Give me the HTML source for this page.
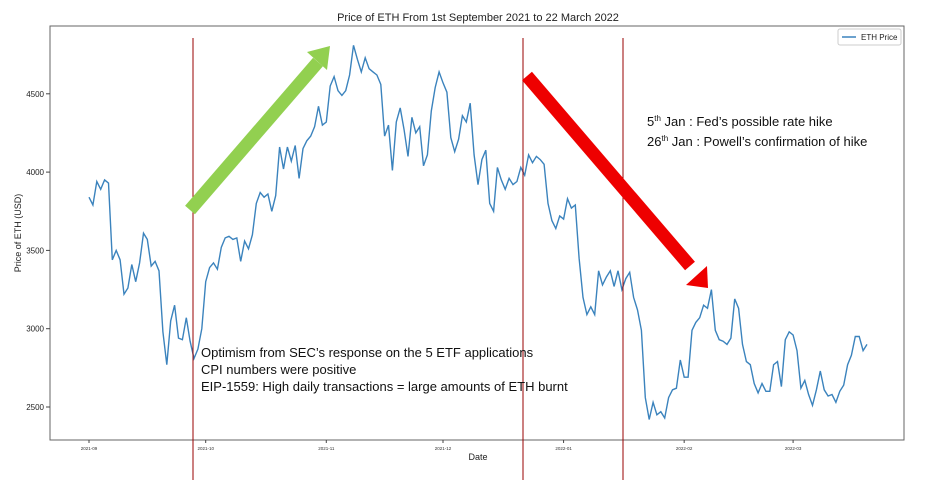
<!DOCTYPE html>
<html><head><meta charset="utf-8"><style>
body{margin:0;background:#fff;}
svg{display:block;font-family:"Liberation Sans",sans-serif;}
</style></head><body>
<svg id="chart" width="930" height="502">
<text x="478" y="21" font-size="11" text-anchor="middle" fill="#222">Price of ETH From 1st September 2021 to 22 March 2022</text>
<rect x="50" y="26" width="854" height="414" fill="none" stroke="#666" stroke-width="1"/>
<g id="yticks"></g><g id="xticks"></g>
<text transform="translate(21,233) rotate(-90)" font-size="9" text-anchor="middle" fill="#222">Price of ETH (USD)</text>
<text x="478" y="460" font-size="9" text-anchor="middle" fill="#222">Date</text>
<path id="line" fill="none" stroke="#3b83bd" stroke-width="1.4"/>
<g>
<rect x="838" y="29" width="63" height="16" fill="#fff" stroke="#ccc" rx="2"/>
<line x1="842" y1="37" x2="856" y2="37" stroke="#3b83bd" stroke-width="1.5"/>
<text x="861" y="40" font-size="8" fill="#222">ETH Price</text>
</g>
<line x1="193" y1="38" x2="193" y2="480" stroke="#900" stroke-width="1"/>
<line x1="523" y1="38" x2="523" y2="480" stroke="#900" stroke-width="1"/>
<line x1="623" y1="38" x2="623" y2="480" stroke="#900" stroke-width="1"/>
<line x1="190" y1="210" x2="318" y2="62" stroke="#92d050" stroke-width="13"/>
<polygon points="330,46 307,52 327,70" fill="#92d050"/>
<line x1="527" y1="76" x2="690" y2="266" stroke="#ee0000" stroke-width="13"/>
<polygon points="708,288 686,285 707,266" fill="#ee0000"/>
<g font-family="'Liberation Sans',sans-serif" font-size="13" fill="#111">
<text x="201" y="357">Optimism from SEC’s response on the 5 ETF applications</text>
<text x="201" y="374">CPI numbers were positive</text>
<text x="201" y="391">EIP-1559: High daily transactions = large amounts of ETH burnt</text>
</g>
<g font-size="13" fill="#111">
<text x="647" y="126">5<tspan font-size="8" dy="-5">th</tspan><tspan dy="5"> Jan : Fed’s possible rate hike</tspan></text>
<text x="647" y="146">26<tspan font-size="8" dy="-5">th</tspan><tspan dy="5"> Jan : Powell’s confirmation of hike</tspan></text>
</g>
</svg>
<script>
const prices = [3840,3790,3940,3890,3950,3930,3440,3500,3440,3220,3260,3410,3300,3420,3610,3570,3400,3430,3370,2980,2770,3050,3150,2940,2930,3070,2920,2810,2870,3000,
3300,3390,3420,3380,3520,3580,3590,3570,3580,3430,3560,3510,3600,3800,3870,3840,3860,3750,3850,4160,4020,4160,4070,4170,3960,4150,4200,4230,4290,4420,4300,
4320,4550,4610,4520,4490,4520,4620,4810,4720,4640,4730,4660,4640,4620,4560,4230,4300,4010,4320,4410,4270,4100,4350,4250,4290,4040,4110,4390,4540,4640,
4570,4510,4220,4130,4210,4360,4320,4440,4110,3920,4080,4140,3800,3750,4030,3950,3890,3960,3920,3940,4030,3980,4110,4060,4100,4080,4050,3800,3690,3640,3720,
3700,3830,3770,3790,3450,3200,3090,3140,3090,3370,3280,3330,3370,3270,3370,3250,3320,3360,3200,3120,2990,2560,2420,2530,2450,2470,2430,2560,2610,2620,2800,
2690,2690,2990,3040,3070,3150,3130,3250,2990,2930,2920,2900,2940,3190,3130,2900,2790,2770,2650,2590,2650,2600,2600,2770,2790,2630,2930,2980,
2960,2860,2620,2670,2580,2510,2610,2730,2610,2570,2580,2530,2600,2640,2770,2830,2950,2950,2860,2900];
const yTicks = [2500,3000,3500,4000,4500];
const xTickLabels = ["2021-09","2021-10","2021-11","2021-12","2022-01","2022-02","2022-03"];
const xTickDays = [0,30,61,91,122,153,181];
const NS="http://www.w3.org/2000/svg";
function xs(d){return 89+d*3.89;}
function ys(p){return 407-(p-2500)*78.3/500;}
const yg=document.getElementById('yticks'), xg=document.getElementById('xticks');
yTicks.forEach(v=>{
 const l=document.createElementNS(NS,'line');
 l.setAttribute('x1',46);l.setAttribute('x2',50);l.setAttribute('y1',ys(v));l.setAttribute('y2',ys(v));l.setAttribute('stroke','#444');
 
 
 yg.appendChild(l);
 const t=document.createElementNS(NS,'text');
 t.setAttribute('x',44);t.setAttribute('y',ys(v)+3);t.setAttribute('font-size','8');t.setAttribute('text-anchor','end');t.setAttribute('fill','#222');
 t.textContent=v;
 
 
 yg.appendChild(t);
});
xTickLabels.forEach((lab,i)=>{
 const x=xs(xTickDays[i]);
 const l=document.createElementNS(NS,'line');
 l.setAttribute('x1',x);l.setAttribute('x2',x);l.setAttribute('y1',440);l.setAttribute('y2',443);l.setAttribute('stroke','#444');
 
 
 xg.appendChild(l);
 const t=document.createElementNS(NS,'text');
 t.setAttribute('x',x);t.setAttribute('y',450);t.setAttribute('font-size','4.5');t.setAttribute('text-anchor','middle');t.setAttribute('fill','#333');
 t.textContent=lab;
 
 
 xg.appendChild(t);
});
document.getElementById('line').setAttribute('d',prices.map((p,i)=>(i?'L':'M')+xs(i).toFixed(1)+','+ys(p).toFixed(1)).join(''));
</script>
</body></html>
